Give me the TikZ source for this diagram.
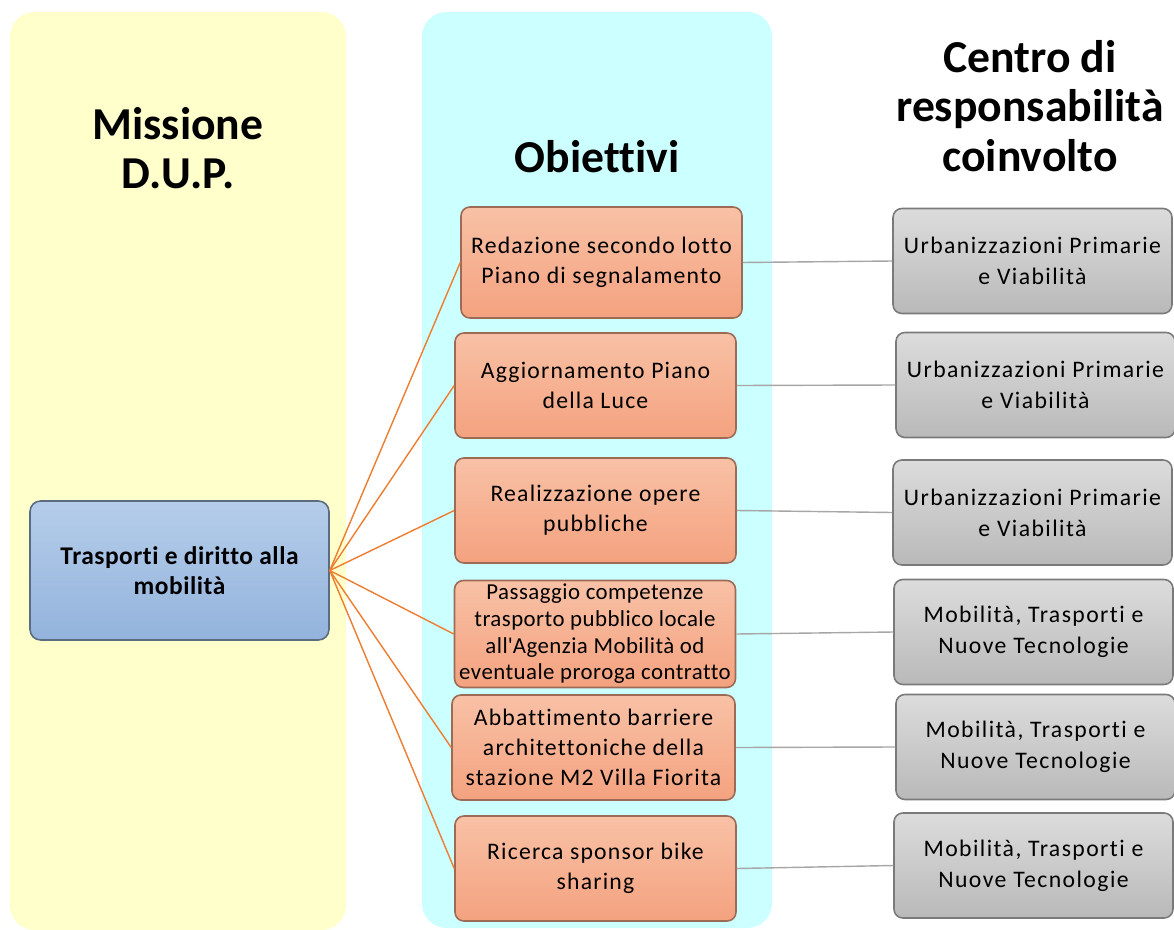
\documentclass[tikz,border=0pt]{standalone}
\usepackage{fontspec}
\setmainfont[Ligatures={TeX,NoCommon}]{Carlito}
\newfontfamily\objfont[LetterSpace=5,Ligatures={TeX,NoCommon}]{Carlito}
\newfontfamily\tightfont[LetterSpace=2,Ligatures={TeX,NoCommon}]{Carlito}
\newfontfamily\respfont[LetterSpace=6,Ligatures={TeX,NoCommon}]{Carlito}
\usetikzlibrary{positioning,calc}

\definecolor{panelyellow}{HTML}{FFFFCC}
\definecolor{panelcyan}{HTML}{CCFFFF}
\definecolor{objtop}{HTML}{F8C1A6}
\definecolor{objbot}{HTML}{F4A27F}
\definecolor{objline}{HTML}{9C6A55}
\definecolor{misstop}{HTML}{B5CDEA}
\definecolor{missbot}{HTML}{93B3DC}
\definecolor{missline}{HTML}{5B6C80}
\definecolor{resptop}{HTML}{DCDCDC}
\definecolor{respbot}{HTML}{B9B9B9}
\definecolor{respline}{HTML}{7A7A7A}
\definecolor{linkorange}{HTML}{ED7D31}
\definecolor{linkgray}{HTML}{A6A6A6}

\tikzset{
  heading/.style={font=\fontsize{26}{28}\selectfont\bfseries, align=center},
  objbox/.style={draw=objline, line width=0.9pt, rounded corners=5pt,
    top color=objtop, bottom color=objbot, inner sep=0pt,
    minimum width=5.62cm, minimum height=2.1cm, align=center,
    font=\objfont\fontsize{13.5}{17}\selectfont},
  respbox/.style={draw=respline, line width=0.9pt, rounded corners=5pt,
    top color=resptop, bottom color=respbot, inner sep=0pt,
    minimum width=5.58cm, minimum height=2.1cm, align=center,
    font=\respfont\fontsize{13.5}{17.5}\selectfont},
  missbox/.style={draw=missline, line width=0.9pt, rounded corners=6pt,
    top color=misstop, bottom color=missbot, inner sep=0pt,
    minimum width=5.98cm, minimum height=2.78cm, align=center,
    font=\tightfont\fontsize{14.5}{17}\selectfont\bfseries},
  objlink/.style={draw=linkorange, line width=0.8pt},
  resplink/.style={draw=linkgray, line width=0.8pt}
}

\begin{document}
\begin{tikzpicture}[x=0.02cm, y=-0.02cm]
    \useasboundingbox (0,0) rectangle (1174,930);

    % Panels
    \fill[panelyellow, rounded corners=14pt] (10,12) rectangle (346,930);
    \fill[panelcyan, rounded corners=14pt] (422,12) rectangle (772,928);

    % Headings
    \node[heading] (hmiss) at (178,148) {Missione\\D.U.P.};
    \node[heading] (hobj) at (597,157) {Obiettivi};
    \node[heading] (hresp) at (1030,106) {Centro di\\responsabilità\\coinvolto};

    % Mission
    \node[missbox] (miss) at (179.5,570.5) {Trasporti e diritto alla\\mobilità};

    % Objectives
    \node[objbox, minimum height=2.22cm] (obj1) at (601.5,262.5) {Redazione secondo lotto\\Piano di segnalamento};
    \node[objbox] (obj2) at (595.5,385.5) {Aggiornamento Piano\\della Luce};
    \node[objbox] (obj3) at (595.5,510.5) {Realizzazione opere\\pubbliche};
    \node[objbox, minimum height=2.14cm, font=\tightfont\fontsize{13}{15.2}\selectfont] (obj4) at (595,634)
      {Passaggio competenze\\trasporto pubblico locale\\all\textquotesingle Agenzia Mobilità od\\eventuale proroga contratto};
    \node[objbox, minimum width=5.66cm] (obj5) at (593.5,747.5) {Abbattimento barriere\\architettoniche della\\stazione M2 Villa Fiorita};
    \node[objbox] (obj6) at (595.5,868.5) {Ricerca sponsor bike\\sharing};

    % Responsibility centres
    \foreach \i/\x/\y in {1/1032.5/261, 2/1035.5/385, 3/1032.5/512.5} {
        \node[respbox] (resp\i) at (\x,\y) {Urbanizzazioni Primarie\\e Viabilità};
    }
    \foreach \i/\x/\y in {4/1033.5/632, 5/1035.5/747, 6/1033.5/865.5} {
        \node[respbox] (resp\i) at (\x,\y) {Mobilità, Trasporti e\\Nuove Tecnologie};
    }

    % Links
    \foreach \i in {1,...,6} {
        \draw[objlink] (miss.east) -- (obj\i.west);
        \draw[resplink] (obj\i.east) -- (resp\i.west);
    }
\end{tikzpicture}
\end{document}
